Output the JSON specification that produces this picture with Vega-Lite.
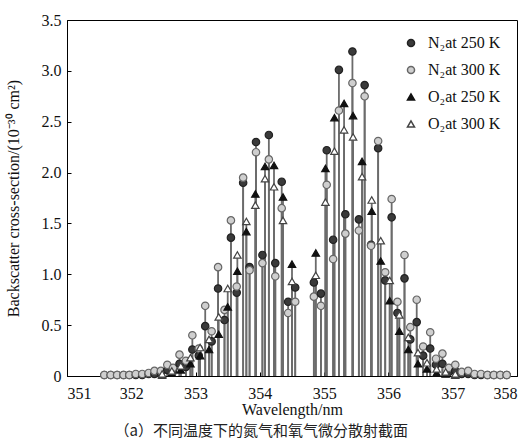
{
  "$schema": "https://vega.github.io/schema/vega-lite/v6.json",
  "width": 450,
  "height": 356,
  "autosize": {"type": "none"},
  "padding": {"left": 67, "top": 20, "right": 8, "bottom": 68},
  "background": "white",
  "title": {"text": "（a）不同温度下的氮气和氧气微分散射截面", "orient": "bottom", "anchor": "middle", "frame": "bounds", "font": "Noto Sans CJK SC", "fontSize": 15, "fontWeight": "normal", "color": "#222", "offset": 7},
  "datasets": {
    "n2": [
      {"wl": 351.58, "a": 0.01, "b": 0.01}, {"wl": 351.68, "a": 0.01, "b": 0.01}, {"wl": 351.78, "a": 0.01, "b": 0.01},
      {"wl": 351.88, "a": 0.01, "b": 0.01}, {"wl": 351.97, "a": 0.01, "b": 0.01}, {"wl": 352.07, "a": 0.01, "b": 0.02},
      {"wl": 352.17, "a": 0.01, "b": 0.02}, {"wl": 352.27, "a": 0.02, "b": 0.03}, {"wl": 352.36, "a": 0.02, "b": 0.05},
      {"wl": 352.46, "a": 0.03, "b": 0.05}, {"wl": 352.56, "a": 0.06, "b": 0.11}, {"wl": 352.65, "a": 0.05, "b": 0.08},
      {"wl": 352.75, "a": 0.12, "b": 0.21}, {"wl": 352.85, "a": 0.09, "b": 0.15}, {"wl": 352.95, "a": 0.26, "b": 0.40},
      {"wl": 353.05, "a": 0.20, "b": 0.27}, {"wl": 353.15, "a": 0.49, "b": 0.69}, {"wl": 353.25, "a": 0.34, "b": 0.44},
      {"wl": 353.35, "a": 0.86, "b": 1.07}, {"wl": 353.45, "a": 0.55, "b": 0.65}, {"wl": 353.55, "a": 1.36, "b": 1.53},
      {"wl": 353.64, "a": 0.82, "b": 0.88}, {"wl": 353.74, "a": 1.90, "b": 1.95}, {"wl": 353.84, "a": 1.07, "b": 1.04},
      {"wl": 353.94, "a": 2.30, "b": 2.20}, {"wl": 354.04, "a": 1.19, "b": 1.11}, {"wl": 354.14, "a": 2.37, "b": 2.13},
      {"wl": 354.24, "a": 1.11, "b": 0.98}, {"wl": 354.34, "a": 1.91, "b": 1.65}, {"wl": 354.44, "a": 0.73, "b": 0.62},
      {"wl": 354.55, "a": 0.87, "b": 0.73}, {"wl": 354.84, "a": 0.92, "b": 0.78}, {"wl": 354.95, "a": 0.81, "b": 0.69},
      {"wl": 355.04, "a": 2.22, "b": 1.88}, {"wl": 355.14, "a": 1.34, "b": 1.15}, {"wl": 355.23, "a": 3.01, "b": 2.61},
      {"wl": 355.33, "a": 1.59, "b": 1.40}, {"wl": 355.44, "a": 3.19, "b": 2.88}, {"wl": 355.54, "a": 1.54, "b": 1.43},
      {"wl": 355.63, "a": 2.86, "b": 2.75}, {"wl": 355.73, "a": 1.29, "b": 1.28}, {"wl": 355.84, "a": 2.24, "b": 2.31},
      {"wl": 355.95, "a": 0.94, "b": 1.02}, {"wl": 356.05, "a": 1.56, "b": 1.74}, {"wl": 356.14, "a": 0.62, "b": 0.73},
      {"wl": 356.25, "a": 0.96, "b": 1.19}, {"wl": 356.34, "a": 0.36, "b": 0.48}, {"wl": 356.44, "a": 0.53, "b": 0.75},
      {"wl": 356.54, "a": 0.20, "b": 0.29}, {"wl": 356.65, "a": 0.27, "b": 0.43}, {"wl": 356.74, "a": 0.11, "b": 0.17},
      {"wl": 356.84, "a": 0.12, "b": 0.22}, {"wl": 356.94, "a": 0.04, "b": 0.08}, {"wl": 357.04, "a": 0.05, "b": 0.11},
      {"wl": 357.14, "a": 0.02, "b": 0.04}, {"wl": 357.24, "a": 0.02, "b": 0.05}, {"wl": 357.34, "a": 0.01, "b": 0.02},
      {"wl": 357.44, "a": 0.01, "b": 0.02}, {"wl": 357.54, "a": 0.01, "b": 0.01}, {"wl": 357.64, "a": 0.01, "b": 0.01},
      {"wl": 357.74, "a": 0.01, "b": 0.01}, {"wl": 357.84, "a": 0.01, "b": 0.01}
    ],
    "o2": [
      {"wl": 352.48, "a": 0.01, "b": 0.02}, {"wl": 352.63, "a": 0.03, "b": 0.05}, {"wl": 352.77, "a": 0.06, "b": 0.10},
      {"wl": 352.92, "a": 0.12, "b": 0.18}, {"wl": 353.07, "a": 0.20, "b": 0.28}, {"wl": 353.21, "a": 0.26, "b": 0.36},
      {"wl": 353.36, "a": 0.41, "b": 0.58}, {"wl": 353.50, "a": 0.68, "b": 0.86}, {"wl": 353.65, "a": 1.03, "b": 1.19},
      {"wl": 353.79, "a": 1.42, "b": 1.52}, {"wl": 353.93, "a": 1.79, "b": 1.68}, {"wl": 354.08, "a": 2.06, "b": 1.94},
      {"wl": 354.22, "a": 2.07, "b": 1.86}, {"wl": 354.36, "a": 1.76, "b": 1.53}, {"wl": 354.50, "a": 1.10, "b": 0.93},
      {"wl": 354.87, "a": 1.21, "b": 0.99}, {"wl": 355.02, "a": 2.04, "b": 1.71}, {"wl": 355.16, "a": 2.54, "b": 2.21},
      {"wl": 355.31, "a": 2.68, "b": 2.42}, {"wl": 355.45, "a": 2.56, "b": 2.35}, {"wl": 355.59, "a": 2.11, "b": 1.96},
      {"wl": 355.74, "a": 1.62, "b": 1.73}, {"wl": 355.88, "a": 1.13, "b": 1.33}, {"wl": 356.02, "a": 0.74, "b": 0.94},
      {"wl": 356.17, "a": 0.44, "b": 0.60}, {"wl": 356.31, "a": 0.26, "b": 0.38}, {"wl": 356.46, "a": 0.12, "b": 0.23},
      {"wl": 356.60, "a": 0.07, "b": 0.13}, {"wl": 356.75, "a": 0.03, "b": 0.07}, {"wl": 356.89, "a": 0.02, "b": 0.04},
      {"wl": 357.04, "a": 0.01, "b": 0.02}
    ]
  },
  "layer": [
    {
      "data": {"name": "n2"},
      "transform": [{"fold": ["a", "b"], "as": ["k", "v"]}],
      "mark": {"type": "rule", "color": "#6b6b6b", "strokeWidth": 1.8},
      "encoding": {
        "x": {"field": "wl", "type": "quantitative", "scale": {"domain": [351, 358], "nice": false, "zero": false}, "axis": {"values": [351, 352, 353, 354, 355, 356, 357, 358], "format": "d", "title": "Wavelength/nm", "labelFont": "Liberation Serif", "labelFontSize": 16, "labelPadding": 13, "titlePadding": 0}},
        "y": {"field": "v", "type": "quantitative", "scale": {"domain": [0, 3.5], "nice": false}, "axis": {"values": [0, 0.5, 1, 1.5, 2, 2.5, 3, 3.5], "labelExpr": "datum.value == 0 ? '0' : format(datum.value, '.1f')", "title": "Backscatter cross-section/(10⁻³⁰ cm²)", "labelFont": "Liberation Serif", "labelFontSize": 16, "labelPadding": 10, "titlePadding": 20}},
        "y2": {"datum": 0}
      }
    },
    {
      "data": {"name": "o2"},
      "transform": [{"fold": ["a", "b"], "as": ["k", "v"]}],
      "mark": {"type": "rule", "color": "#6b6b6b", "strokeWidth": 1.8},
      "encoding": {
        "x": {"field": "wl", "type": "quantitative"},
        "y": {"field": "v", "type": "quantitative"},
        "y2": {"datum": 0}
      }
    },
    {
      "data": {"name": "n2"},
      "transform": [
        {"fold": ["a", "b"], "as": ["k", "v"]},
        {"lookup": "k", "from": {"data": {"values": [{"k": "a", "s": "N₂at 250 K"}, {"k": "b", "s": "N₂at 300 K"}]}, "key": "k", "fields": ["s"]}}
      ],
      "mark": {"type": "point", "size": 55, "strokeWidth": 1.2, "opacity": 1},
      "encoding": {
        "x": {"field": "wl", "type": "quantitative"},
        "y": {"field": "v", "type": "quantitative"},
        "shape": {"field": "s", "type": "nominal", "scale": {"domain": ["N₂at 250 K", "N₂at 300 K", "O₂at 250 K", "O₂at 300 K"], "range": ["circle", "circle", "triangle-up", "triangle-up"]}, "title": null},
        "fill": {"field": "s", "type": "nominal", "scale": {"domain": ["N₂at 250 K", "N₂at 300 K", "O₂at 250 K", "O₂at 300 K"], "range": ["#3a3a3a", "#cfcfcf", "#111111", "#ffffff"]}, "title": null},
        "stroke": {"field": "s", "type": "nominal", "scale": {"domain": ["N₂at 250 K", "N₂at 300 K", "O₂at 250 K", "O₂at 300 K"], "range": ["#222222", "#666666", "#111111", "#444444"]}, "title": null}
      }
    },
    {
      "data": {"name": "o2"},
      "transform": [
        {"fold": ["a", "b"], "as": ["k", "v"]},
        {"lookup": "k", "from": {"data": {"values": [{"k": "a", "s": "O₂at 250 K"}, {"k": "b", "s": "O₂at 300 K"}]}, "key": "k", "fields": ["s"]}}
      ],
      "mark": {"type": "point", "size": 55, "strokeWidth": 1.2, "opacity": 1},
      "encoding": {
        "x": {"field": "wl", "type": "quantitative"},
        "y": {"field": "v", "type": "quantitative"},
        "shape": {"field": "s", "type": "nominal"},
        "fill": {"field": "s", "type": "nominal"},
        "stroke": {"field": "s", "type": "nominal"}
      }
    }
  ],
  "config": {
    "font": "Liberation Serif",
    "style": {"guide-label": {"font": "Liberation Serif"}, "guide-title": {"font": "Liberation Serif"}},
    "view": {"stroke": "#000", "strokeWidth": 1},
    "axis": {
      "grid": false,
      "domainColor": "#000",
      "tickColor": "#000",
      "tickSize": -4,
      "labelColor": "#111",
      "labelFont": "Liberation Serif",
      "titleFont": "Liberation Serif",
      "titleFontSize": 16,
      "titleFontWeight": "normal",
      "titleColor": "#111"
    },
    "legend": {
      "orient": "none",
      "legendX": 336,
      "legendY": 15,
      "labelFont": "Liberation Serif",
      "labelFontSize": 16,
      "labelColor": "#111",
      "symbolSize": 50,
      "rowPadding": 11,
      "labelOffset": 9,
      "padding": 0
    }
  }
}
